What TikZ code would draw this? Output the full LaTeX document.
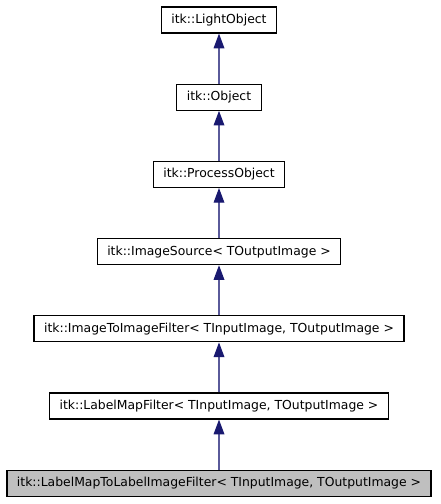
\documentclass[tikz,border=0pt]{standalone}
\usepackage{fontspec}
\setmainfont{DejaVu Sans}
\usepackage{xcolor}
\usepackage{tikz}
\usetikzlibrary{arrows.meta, positioning}
\definecolor{edgeblue}{HTML}{191970}
\definecolor{edgeline}{HTML}{5A5A9A}
\definecolor{curfill}{HTML}{BFBFBF}

\begin{document}
\begin{tikzpicture}[x=0.75pt, y=-0.75pt, node distance=37.5pt, >={Triangle[length=11pt, width=8pt, color=edgeblue]}, font=\fontsize{9.3}{11}\selectfont]
    \tikzstyle{cls} = [rectangle, draw=black, fill=white, minimum height=19.5pt, inner xsep=7.5pt, inner ysep=0pt, text centered, line width=0.9pt]
    \tikzstyle{current} = [cls, fill=curfill]
    \tikzstyle{inherit} = [draw=edgeline, line width=0.9pt, ->]

    \useasboundingbox (0,0) rectangle (440,504);

    \node [cls] (light) at (219,20) {itk::LightObject};
    \node [cls, below=of light] (obj) {itk::Object};
    \node [cls, below=of obj] (proc) {itk::ProcessObject};
    \node [cls, below=of proc] (src) {itk::ImageSource< TOutputImage >};
    \node [cls, below=of src] (i2i) {itk::ImageToImageFilter< TInputImage, TOutputImage >};
    \node [cls, below=of i2i] (lmf) {itk::LabelMapFilter< TInputImage, TOutputImage >};
    \node [current, below=of lmf] (lm2li) {itk::LabelMapToLabelImageFilter< TInputImage, TOutputImage >};

    \path [inherit] (obj) -- (light);
    \path [inherit] (proc) -- (obj);
    \path [inherit] (src) -- (proc);
    \path [inherit] (i2i) -- (src);
    \path [inherit] (lmf) -- (i2i);
    \path [inherit] (lm2li) -- (lmf);
\end{tikzpicture}
\end{document}
